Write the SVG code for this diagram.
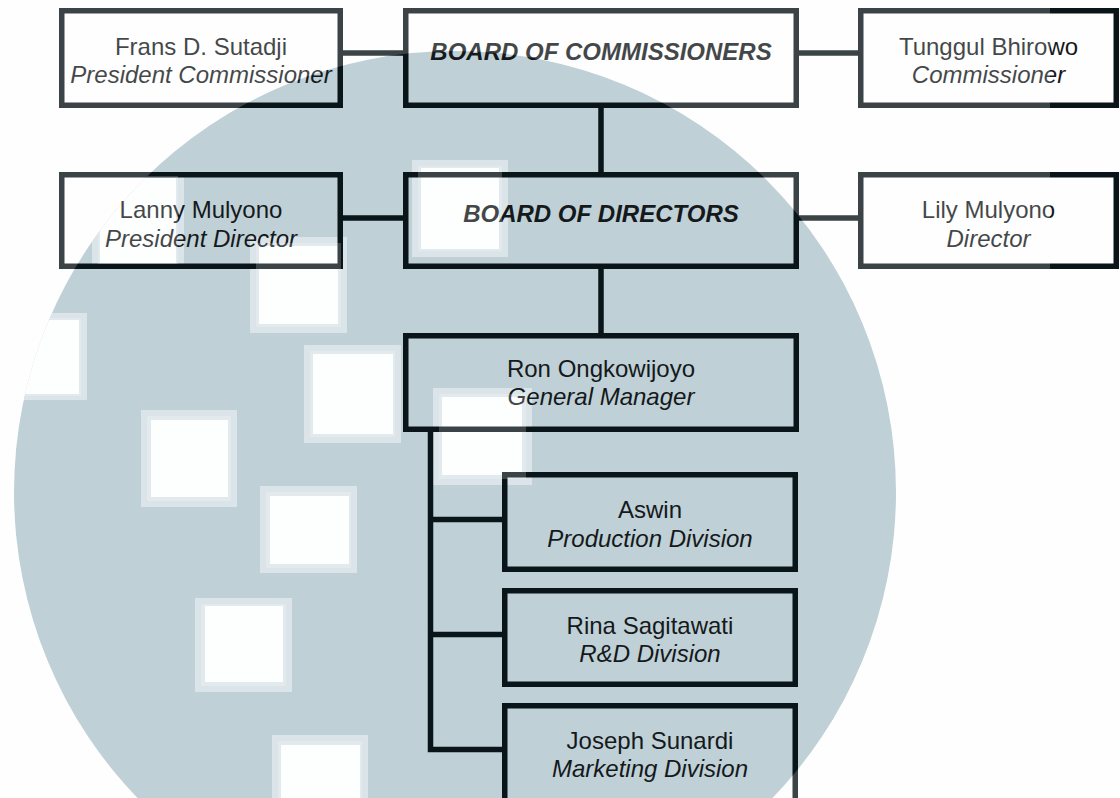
<svg xmlns="http://www.w3.org/2000/svg" width="1120" height="798" viewBox="0 0 1120 798">
  <style>
    .box { fill: none; stroke: #0a1519; stroke-width: 5.5; }
    .conn { fill: none; stroke: #0a1519; stroke-width: 5.5; stroke-linejoin: miter; }
    .t { font-family: "Liberation Sans", Arial, sans-serif; font-size: 24px; fill: #15191b; text-anchor: middle; }
    .role { font-style: italic; }
    .head { font-weight: bold; font-style: italic; }
    .halo { fill: #dbe5e9; }
    .sq { fill: #fdfefe; }
  </style>
  <defs>
    <clipPath id="circ">
      <circle cx="455" cy="492" r="441"/>
    </clipPath>
    <mask id="outside" maskUnits="userSpaceOnUse" x="0" y="0" width="1120" height="798">
      <rect x="0" y="0" width="1120" height="798" fill="#fff"/>
      <circle cx="455" cy="492" r="441" fill="#000"/>
      <g fill="#fff">
        <rect x="418" y="166" width="84" height="85"/>
        <rect x="98" y="176" width="80" height="88"/>
        <rect x="256" y="243" width="85" height="84"/>
        <rect x="5" y="318" width="76" height="78"/>
        <rect x="310" y="351" width="85" height="86"/>
        <rect x="439" y="394" width="87" height="85"/>
        <rect x="147" y="416" width="84" height="85"/>
        <rect x="266" y="492" width="85" height="76"/>
        <rect x="201" y="604" width="85" height="82"/>
        <rect x="278" y="741" width="84" height="60"/>
      </g>
      <rect x="1050" y="0" width="70" height="275" fill="#000"/>
    </mask>
  </defs>

  <rect x="0" y="0" width="1120" height="798" fill="#fefefe"/>

  <g id="watermark">
    <circle cx="455" cy="492" r="441" fill="#bfd0d7"/>
    <g clip-path="url(#circ)">
      <rect class="halo" x="412" y="160" width="96" height="97"/>
      <rect class="sq" x="421" y="168" width="78" height="81"/>
      <rect class="halo" x="92" y="172" width="92" height="96"/>
      <rect class="sq" x="100" y="178" width="76" height="86"/>
      <rect class="halo" x="250" y="237" width="97" height="96"/>
      <rect class="sq" x="259" y="246" width="79" height="78"/>
      <rect class="halo" x="0" y="313" width="87" height="87"/>
      <rect class="sq" x="0" y="320" width="79" height="74"/>
      <rect class="halo" x="304" y="345" width="97" height="98"/>
      <rect class="sq" x="313" y="354" width="80" height="80"/>
      <rect class="halo" x="433" y="388" width="99" height="97"/>
      <rect class="sq" x="442" y="397" width="80" height="78"/>
      <rect class="halo" x="141" y="410" width="96" height="97"/>
      <rect class="sq" x="151" y="420" width="77" height="77"/>
      <rect class="halo" x="260" y="486" width="97" height="87"/>
      <rect class="sq" x="270" y="496" width="79" height="68"/>
      <rect class="halo" x="195" y="598" width="97" height="94"/>
      <rect class="sq" x="205" y="606" width="78" height="76"/>
      <rect class="halo" x="272" y="735" width="96" height="70"/>
      <rect class="sq" x="281" y="745" width="79" height="60"/>
    </g>
  </g>

  <g id="connectors">
    <path class="conn" d="M343,53 H403"/>
    <path class="conn" d="M799,53 H858"/>
    <path class="conn" d="M601,108 V172"/>
    <path class="conn" d="M343,218 H403"/>
    <path class="conn" d="M799,218 H858"/>
    <path class="conn" d="M601,269 V333"/>
    <path class="conn" d="M430.5,432 V749.5 H502"/>
    <path class="conn" d="M430.5,519.5 H502"/>
    <path class="conn" d="M430.5,634.5 H502"/>
  </g>

  <g id="node-frans">
    <rect class="box" x="61.75" y="10.75" width="278.5" height="94.5"/>
    <text class="t" x="201" y="55">Frans D. Sutadji</text>
    <text class="t role" x="201" y="83">President Commissioner</text>
  </g>
  <g id="node-board-commissioners">
    <rect class="box" x="405.75" y="10.75" width="390.5" height="94.5"/>
    <text class="t head" x="601" y="60">BOARD OF COMMISSIONERS</text>
  </g>
  <g id="node-tunggul">
    <rect class="box" x="860.75" y="10.75" width="255.5" height="94.5"/>
    <text class="t" x="988.5" y="55">Tunggul Bhirowo</text>
    <text class="t role" x="988.5" y="83">Commissioner</text>
  </g>
  <g id="node-lanny">
    <rect class="box" x="61.75" y="174.75" width="278.5" height="91.5"/>
    <text class="t" x="201" y="218">Lanny Mulyono</text>
    <text class="t role" x="201" y="247">President Director</text>
  </g>
  <g id="node-board-directors">
    <rect class="box" x="405.75" y="174.75" width="390.5" height="91.5"/>
    <text class="t head" x="601" y="222">BOARD OF DIRECTORS</text>
  </g>
  <g id="node-lily">
    <rect class="box" x="860.75" y="174.75" width="255.5" height="91.5"/>
    <text class="t" x="988.5" y="218">Lily Mulyono</text>
    <text class="t role" x="988.5" y="247">Director</text>
  </g>
  <g id="node-ron">
    <rect class="box" x="405.75" y="335.75" width="390.5" height="93.5"/>
    <text class="t" x="601" y="377">Ron Ongkowijoyo</text>
    <text class="t role" x="601" y="405">General Manager</text>
  </g>
  <g id="node-aswin">
    <rect class="box" x="504.75" y="474.75" width="290.5" height="94.5"/>
    <text class="t" x="650" y="518">Aswin</text>
    <text class="t role" x="650" y="547">Production Division</text>
  </g>
  <g id="node-rina">
    <rect class="box" x="504.75" y="590.75" width="290.5" height="93.5"/>
    <text class="t" x="650" y="634">Rina Sagitawati</text>
    <text class="t role" x="650" y="662">R&amp;D Division</text>
  </g>
  <g id="node-joseph">
    <rect class="box" x="504.75" y="705.75" width="290.5" height="96"/>
    <text class="t" x="650" y="749">Joseph Sunardi</text>
    <text class="t role" x="650" y="777">Marketing Division</text>
  </g>

  <rect id="tone" x="0" y="0" width="1120" height="798" fill="#ffffff" fill-opacity="0.2" mask="url(#outside)"/>
</svg>
